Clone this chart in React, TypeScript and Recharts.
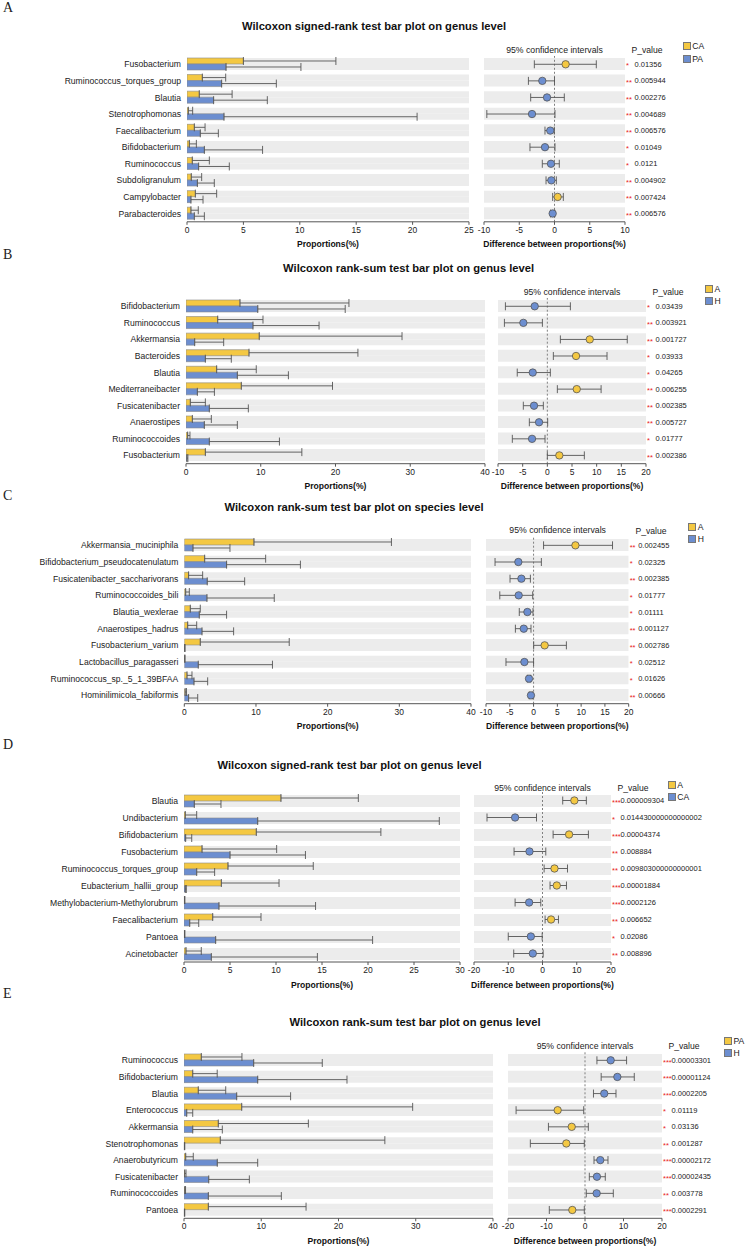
import React from 'react';
import {
  BarChart,
  Bar,
  XAxis,
  YAxis,
  ErrorBar,
  ComposedChart,
  Scatter,
  ReferenceLine,
  Legend,
} from 'recharts';

// ---------- Panel A: CA vs PA, genus level (signed-rank) ----------
const genusA = ['Fusobacterium', 'Ruminococcus_torques_group', 'Blautia', 'Stenotrophomonas', 'Faecalibacterium', 'Bifidobacterium', 'Ruminococcus', 'Subdoligranulum', 'Campylobacter', 'Parabacteroides'];
const caMeanA = [5.0, 1.36, 1.09, 0.12, 0.65, 0.21, 0.47, 0.38, 0.74, 0.35];
const caUpperA = [13.2, 3.43, 4.0, 0.5, 1.6, 0.83, 1.98, 1.3, 2.63, 1.0];
const paMeanA = [3.46, 3.07, 2.36, 3.28, 1.18, 1.54, 1.03, 0.92, 0.35, 0.65];
const paUpperA = [10.1, 7.92, 7.12, 20.4, 2.78, 6.7, 3.75, 2.42, 1.42, 1.54];
const diffA = [1.58, -1.73, -1.06, -3.19, -0.6, -1.35, -0.5, -0.45, 0.45, -0.26];
const ciLowA = [-2.86, -3.7, -3.38, -9.6, -1.35, -3.48, -1.73, -1.2, -0.26, -0.55];
const ciHighA = [5.93, 0.0, 1.39, 0.07, -0.03, 0.07, 0.68, 0.26, 1.25, 0.02];
const pA = [0.01356, 0.005944, 0.002276, 0.004689, 0.006576, 0.01049, 0.0121, 0.004902, 0.007424, 0.006576];
const barTicksA = [0, 5, 10, 15, 20, 25];
const ciTicksA = [-10, -5, 0, 5, 10];

// ---------- Panel B: A vs H, genus level (rank-sum) ----------
const genusB = ['Bifidobacterium', 'Ruminococcus', 'Akkermansia', 'Bacteroides', 'Blautia', 'Mediterraneibacter', 'Fusicatenibacter', 'Anaerostipes', 'Ruminococcoides', 'Fusobacterium'];
const aMeanB = [7.22, 4.24, 9.8, 8.43, 4.1, 7.4, 0.58, 0.85, 0.22, 2.59];
const aUpperB = [21.8, 10.3, 28.9, 23.0, 9.4, 19.6, 2.59, 3.39, 0.53, 15.5];
const hMeanB = [9.6, 8.96, 1.16, 2.59, 6.87, 1.52, 3.12, 2.45, 3.12, 0.12];
const hUpperB = [21.3, 17.8, 5.04, 6.06, 13.7, 3.8, 8.34, 6.87, 12.5, 0.25];
const diffB = [-2.56, -4.86, 8.6, 5.82, -2.96, 5.96, -2.7, -1.68, -3.1, 2.43];
const ciLowB = [-8.5, -8.7, 2.64, 1.22, -6.1, 2.03, -4.87, -3.65, -7.1, 0.0];
const ciHighB = [4.67, -1.0, 16.2, 12.1, 0.61, 10.9, -0.81, 0.07, -0.47, 7.5];
const pB = [0.03439, 0.003921, 0.001727, 0.03933, 0.04265, 0.006255, 0.002385, 0.005727, 0.01777, 0.002386];
const barTicksB = [0, 10, 20, 30, 40];
const ciTicksB = [-10, -5, 0, 5, 10, 15, 20];

// ---------- Panel C: A vs H, species level (rank-sum) ----------
const speciesC = ['Akkermansia_muciniphila', 'Bifidobacterium_pseudocatenulatum', 'Fusicatenibacter_saccharivorans', 'Ruminococcoides_bili', 'Blautia_wexlerae', 'Anaerostipes_hadrus', 'Fusobacterium_varium', 'Lactobacillus_paragasseri', 'Ruminococcus_sp._5_1_39BFAA', 'Hominilimicola_fabiformis'];
const aMeanC = [9.72, 2.84, 0.6, 0.19, 0.84, 0.47, 2.23, 0.05, 0.38, 0.12];
const aUpperC = [28.9, 11.35, 2.56, 0.7, 2.23, 1.73, 14.64, 0.1, 1.07, 0.3];
const hMeanC = [1.21, 5.9, 3.2, 3.16, 2.09, 2.47, 0.05, 1.95, 1.35, 0.6];
const hUpperC = [6.37, 16.2, 8.42, 12.55, 5.9, 6.88, 0.1, 12.3, 3.26, 1.87];
const diffC = [8.8, -3.2, -2.56, -3.13, -1.3, -2.06, 2.33, -1.93, -0.96, -0.55];
const ciLowC = [2.1, -8.1, -4.95, -7.1, -3.0, -3.82, 0.02, -5.8, -1.3, -0.9];
const ciHighC = [16.6, 1.64, -0.67, -0.19, -0.12, -0.54, 6.9, 0.0, -0.6, -0.2];
const pC = [0.002455, 0.02325, 0.002385, 0.01777, 0.01111, 0.001127, 0.002786, 0.02512, 0.01626, 0.00666];
const barTicksC = [0, 10, 20, 30, 40];
const ciTicksC = [-10, -5, 0, 5, 10, 15, 20];

// ---------- Panel D: A vs CA, genus level (signed-rank) ----------
const genusD = ['Blautia', 'Undibacterium', 'Bifidobacterium', 'Fusobacterium', 'Ruminococcus_torques_group', 'Eubacterium_hallii_group', 'Methylobacterium-Methylorubrum', 'Faecalibacterium', 'Pantoea', 'Acinetobacter'];
const aMeanD = [10.54, 0.14, 7.86, 1.96, 4.78, 4.06, 0.05, 3.12, 0.05, 0.22];
const aUpperD = [18.95, 1.38, 21.4, 10.07, 14.05, 10.33, 0.1, 8.37, 0.1, 1.88];
const caMeanD = [1.12, 8.01, 0.18, 5.0, 1.38, 0.14, 3.8, 0.62, 3.44, 2.97];
const caUpperD = [4.02, 27.75, 0.84, 13.2, 3.33, 0.25, 14.3, 1.6, 20.5, 14.5];
const diffD = [9.3, -8.0, 7.76, -3.8, 3.5, 4.17, -3.9, 2.5, -3.4, -2.83];
const ciLowD = [5.9, -16.2, 3.1, -8.3, 0.47, 2.2, -8.0, 0.76, -10.0, -8.4];
const ciHighD = [12.8, -1.75, 13.4, 0.96, 7.3, 7.0, -0.5, 4.66, -0.1, 0.2];
const pD = [0.000009304, 0.014430000000000002, 0.00004374, 0.008884, 0.009803000000000001, 0.00001884, 0.0002126, 0.006652, 0.02086, 0.008896];
const barTicksD = [0, 5, 10, 15, 20, 25, 30];
const ciTicksD = [-20, -10, 0, 10, 20];

// ---------- Panel E: PA vs H, genus level (rank-sum) ----------
const genusE = ['Ruminococcus', 'Bifidobacterium', 'Blautia', 'Enterococcus', 'Akkermansia', 'Stenotrophomonas', 'Anaerobutyricum', 'Fusicatenibacter', 'Ruminococcoides', 'Pantoea'];
const paMeanE = [2.24, 1.13, 1.85, 7.47, 4.44, 4.7, 0.22, 0.09, 0.1, 3.15];
const paUpperE = [7.5, 4.3, 5.4, 29.6, 16.1, 26.0, 1.2, 0.26, 0.2, 15.8];
const hMeanE = [9.02, 9.54, 6.82, 0.35, 1.13, 0.05, 4.31, 3.2, 3.15, 0.05];
const hUpperE = [17.9, 21.1, 13.8, 1.13, 4.96, 0.1, 9.54, 8.46, 12.6, 0.1];
const diffE = [6.67, 8.4, 5.0, -7.1, -3.45, -4.85, 3.97, 3.1, 3.03, -3.3];
const ciLowE = [3.1, 4.2, 2.2, -17.9, -9.5, -14.2, 2.34, 1.12, 0.34, -9.27];
const ciHighE = [10.8, 12.8, 8.05, -0.34, 0.86, -0.18, 5.97, 5.27, 7.35, -0.18];
const pE = [0.00003301, 0.00001124, 0.0002205, 0.01119, 0.03136, 0.001287, 0.00002172, 0.00002435, 0.003778, 0.0002291];
const barTicksE = [0, 10, 20, 30, 40];
const ciTicksE = [-20, -10, 0, 10, 20];

// ---------- styling ----------
const FONT = '"Liberation Sans", Arial, Helvetica, sans-serif';
const SERIF = '"Liberation Serif", "Times New Roman", serif';
const YELLOW = '#F4C842';
const BLUE = '#6C8ED0';
const BAND = '#ECECEC';
const TEXT = '#222';
const AXIS = '#555';
const MT = 4; // top margin of each chart
const AXIS_H = 30; // height reserved for x axis ticks + label
const PCOL_W = 120; // width of the p-value column
const SIDE = 14; // horizontal room for edge tick labels

type PanelSpec = {
  letter: string;
  letterY: number;
  title: string;
  titleX: number;
  titleY: number;
  groups: [string, string];
  names: string[];
  m1: number[];
  u1: number[];
  m2: number[];
  u2: number[];
  diff: number[];
  lo: number[];
  hi: number[];
  p: number[];
  barMax: number;
  barTicks: number[];
  ciDomain: [number, number];
  ciTicks: number[];
  top: number;
  bottom: number;
  barLeft: number;
  barRight: number;
  ciLeft: number;
  ciRight: number;
  headerY: number;
  legendX: number;
  legendY: number;
};

const panels: PanelSpec[] = [
  {
    letter: 'A', letterY: 8.5,
    title: 'Wilcoxon signed-rank test bar plot on genus level', titleX: 374, titleY: 27,
    groups: ['CA', 'PA'],
    names: genusA, m1: caMeanA, u1: caUpperA, m2: paMeanA, u2: paUpperA,
    diff: diffA, lo: ciLowA, hi: ciHighA, p: pA,
    barMax: 25, barTicks: barTicksA, ciDomain: [-10, 10], ciTicks: ciTicksA,
    top: 55.7, bottom: 221.5, barLeft: 187, barRight: 469, ciLeft: 484, ciRight: 625,
    headerY: 50, legendX: 682.7, legendY: 46.3,
  },
  {
    letter: 'B', letterY: 255.7,
    title: 'Wilcoxon rank-sum test bar plot on genus level', titleX: 408.6, titleY: 269,
    groups: ['A', 'H'],
    names: genusB, m1: aMeanB, u1: aUpperB, m2: hMeanB, u2: hUpperB,
    diff: diffB, lo: ciLowB, hi: ciHighB, p: pB,
    barMax: 40, barTicks: barTicksB, ciDomain: [-10, 20], ciTicks: ciTicksB,
    top: 297.8, bottom: 463.5, barLeft: 186, barRight: 485, ciLeft: 498, ciRight: 646,
    headerY: 292, legendX: 705, legendY: 288.7,
  },
  {
    letter: 'C', letterY: 496.3,
    title: 'Wilcoxon rank-sum test bar plot on species level', titleX: 354, titleY: 508,
    groups: ['A', 'H'],
    names: speciesC, m1: aMeanC, u1: aUpperC, m2: hMeanC, u2: hUpperC,
    diff: diffC, lo: ciLowC, hi: ciHighC, p: pC,
    barMax: 40, barTicks: barTicksC, ciDomain: [-10, 20], ciTicks: ciTicksC,
    top: 536.7, bottom: 703.4, barLeft: 184.3, barRight: 471, ciLeft: 486.3, ciRight: 629,
    headerY: 530.7, legendX: 688.3, legendY: 527,
  },
  {
    letter: 'D', letterY: 745.3,
    title: 'Wilcoxon signed-rank test bar plot on genus level', titleX: 349.5, titleY: 766,
    groups: ['A', 'CA'],
    names: genusD, m1: aMeanD, u1: aUpperD, m2: caMeanD, u2: caUpperD,
    diff: diffD, lo: ciLowD, hi: ciHighD, p: pD,
    barMax: 30, barTicks: barTicksD, ciDomain: [-20, 20], ciTicks: ciTicksD,
    top: 791.5, bottom: 961.5, barLeft: 184, barRight: 460, ciLeft: 474, ciRight: 611,
    headerY: 788, legendX: 667.7, legendY: 784.5,
  },
  {
    letter: 'E', letterY: 994.2,
    title: 'Wilcoxon rank-sum test bar plot on genus level', titleX: 415, titleY: 1023,
    groups: ['PA', 'H'],
    names: genusE, m1: paMeanE, u1: paUpperE, m2: hMeanE, u2: hUpperE,
    diff: diffE, lo: ciLowE, hi: ciHighE, p: pE,
    barMax: 40, barTicks: barTicksE, ciDomain: [-20, 20], ciTicks: ciTicksE,
    top: 1051.7, bottom: 1218, barLeft: 184, barRight: 493, ciLeft: 508, ciRight: 662,
    headerY: 1046, legendX: 724, legendY: 1041,
  },
];

const starsFor = (p: number) => (p < 0.001 ? '***' : p < 0.01 ? '**' : '*');

// Star marks and p-value text drawn as the ticks of the right-hand category axis
const PValueTick = (props: any) => {
  const { x, y, index, pvals } = props;
  const p = pvals[index];
  return (
    <g>
      <text x={x + 1} y={y + 4.2} fontSize={7.5} fill="#E8221B" fontFamily={FONT}>
        {starsFor(p)}
      </text>
      <text x={x + 9.5} y={y} dy="0.35em" fontSize={7.5} fill={TEXT} fontFamily={FONT}>
        {String(p)}
      </text>
    </g>
  );
};

const DiffDot = (props: any) => {
  const { cx, cy, payload } = props;
  if (cx == null || cy == null) return null;
  return <circle cx={cx} cy={cy} r={3.7} fill={payload.dot} stroke="#555" strokeWidth={0.8} />;
};

const Txt = ({ x, y, children, size, bold, anchor, family }: any) => {
  const lh = size * 1.2;
  const style: React.CSSProperties = {
    position: 'absolute',
    top: y - lh / 2,
    lineHeight: `${lh}px`,
    fontSize: size,
    fontWeight: bold ? 700 : 400,
    fontFamily: family || FONT,
    color: bold ? '#111' : TEXT,
    whiteSpace: 'nowrap',
    left: x,
  };
  if (anchor === 'middle') style.transform = 'translateX(-50%)';
  return <div style={style}>{children}</div>;
};

function Panel({ s }: { s: PanelSpec }) {
  const rows = s.names.map((name, i) => ({
    name,
    v1: s.m1[i],
    e1: [0, s.u1[i] - s.m1[i]],
    v2: s.m2[i],
    e2: [0, s.u2[i] - s.m2[i]],
    band: s.ciDomain,
    diff: s.diff[i],
    ci: [s.diff[i] - s.lo[i], s.hi[i] - s.diff[i]],
    dot: s.m1[i] >= s.m2[i] ? YELLOW : BLUE,
  }));
  const chartTop = s.top - MT;
  const chartH = MT + (s.bottom - s.top) + AXIS_H;
  const tickFont = { fill: TEXT, fontSize: 8.5, fontFamily: FONT };
  const axisLabel = (value: string) => ({
    value,
    position: 'insideBottom' as const,
    offset: 4.5,
    fontSize: 8.6,
    fontWeight: 700,
    fill: '#111',
    fontFamily: FONT,
  });

  const legendContent = (props: any) => {
    const items = [...(props.payload || [])].sort(
      (a: any, b: any) => s.groups.indexOf(a.value) - s.groups.indexOf(b.value)
    );
    return (
      <div>
        {items.map((it: any) => (
          <div key={it.value} style={{ display: 'flex', alignItems: 'center', height: 12.3, fontSize: 8.6, fontFamily: FONT, color: TEXT }}>
            <span style={{ display: 'inline-block', width: 6, height: 6, background: it.color, border: '0.8px solid #777', marginRight: 1.5 }} />
            <span>{it.value}</span>
          </div>
        ))}
      </div>
    );
  };

  return (
    <>
      <Txt x={3} y={s.letterY} size={14} family={SERIF}>{s.letter}</Txt>
      <Txt x={s.titleX} y={s.titleY} size={11.2} bold anchor="middle">{s.title}</Txt>
      <Txt x={(s.ciLeft + s.ciRight) / 2} y={s.headerY} size={8.7} anchor="middle">95% confidence intervals</Txt>
      <Txt x={s.ciRight + 6.5} y={s.headerY} size={8.6}>P_value</Txt>

      <div style={{ position: 'absolute', left: 0, top: chartTop }}>
        <BarChart
          layout="vertical"
          width={s.barRight + SIDE}
          height={chartH}
          data={rows}
          margin={{ top: MT, right: SIDE, bottom: 0, left: 0 }}
          barGap={0}
        >
          <XAxis
            type="number"
            domain={[0, s.barMax]}
            ticks={s.barTicks}
            allowDataOverflow
            interval={0}
            height={AXIS_H}
            stroke={AXIS}
            tickSize={3}
            tickMargin={2}
            tick={tickFont}
            label={axisLabel('Proportions(%)')}
          />
          <YAxis
            type="category"
            dataKey="name"
            width={s.barLeft}
            axisLine={false}
            tickLine={false}
            tickSize={4}
            tickMargin={2}
            interval={0}
            tick={{ fill: TEXT, fontSize: 8.6, fontFamily: FONT }}
          />
          <Legend
            layout="vertical"
            align="center"
            verticalAlign="middle"
            wrapperStyle={{ left: s.legendX, top: s.legendY - 6.15 - chartTop, width: 40, height: 26 }}
            content={legendContent}
          />
          <Bar
            dataKey="v1"
            name={s.groups[0]}
            fill={YELLOW}
            stroke="#8a8a8a"
            strokeWidth={0.6}
            barSize={6}
            background={{ fill: BAND }}
            isAnimationActive={false}
          >
            <ErrorBar dataKey="e1" direction="x" width={4} stroke="#555" strokeWidth={0.9} />
          </Bar>
          <Bar
            dataKey="v2"
            name={s.groups[1]}
            fill={BLUE}
            stroke="#8a8a8a"
            strokeWidth={0.6}
            barSize={6}
            background={{ fill: BAND }}
            isAnimationActive={false}
          >
            <ErrorBar dataKey="e2" direction="x" width={4} stroke="#555" strokeWidth={0.9} />
          </Bar>
        </BarChart>
      </div>

      <div style={{ position: 'absolute', left: s.ciLeft - SIDE, top: chartTop }}>
        <ComposedChart
          layout="vertical"
          width={SIDE + (s.ciRight - s.ciLeft) + PCOL_W}
          height={chartH}
          data={rows}
          margin={{ top: MT, right: 0, bottom: 0, left: SIDE }}
        >
          <XAxis
            type="number"
            domain={s.ciDomain}
            ticks={s.ciTicks}
            allowDataOverflow
            interval={0}
            height={AXIS_H}
            stroke={AXIS}
            tickSize={3}
            tickMargin={2}
            tick={tickFont}
            label={axisLabel('Difference between proportions(%)')}
          />
          <YAxis
            type="category"
            dataKey="name"
            orientation="right"
            width={PCOL_W}
            axisLine={false}
            tickLine={false}
            tickSize={0}
            tickMargin={0}
            interval={0}
            tick={<PValueTick pvals={s.p} />}
          />
          <Bar dataKey="band" fill={BAND} barSize={12} isAnimationActive={false} />
          <ReferenceLine x={0} stroke="#808080" strokeDasharray="2 2" />
          <Scatter dataKey="diff" shape={<DiffDot />} isAnimationActive={false}>
            <ErrorBar dataKey="ci" direction="x" width={4} stroke="#555" strokeWidth={0.9} />
          </Scatter>
        </ComposedChart>
      </div>
    </>
  );
}

export default function App() {
  return (
    <div
      style={{
        position: 'absolute',
        left: 0,
        top: 0,
        width: 745,
        height: 1246,
        background: '#fff',
        overflow: 'hidden',
        fontFamily: FONT,
      }}
    >
      {panels.map((s) => (
        <Panel key={s.letter} s={s} />
      ))}
    </div>
  );
}
